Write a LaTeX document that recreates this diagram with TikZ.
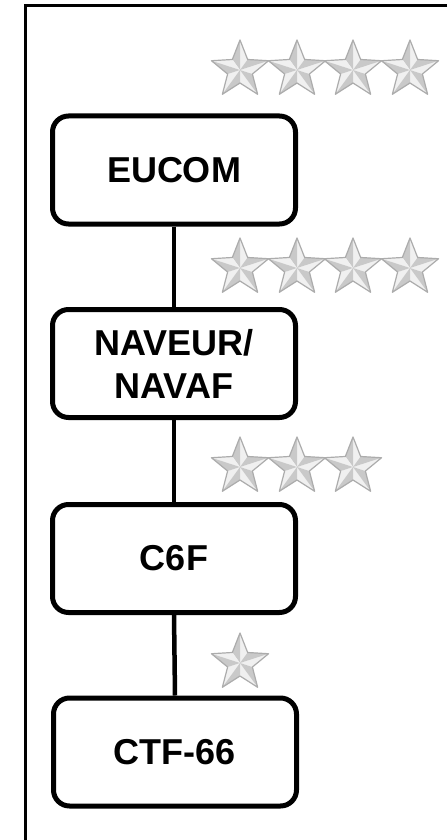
\documentclass[tikz,border=0pt]{standalone}
\usepackage{fontspec}
\setmainfont{Liberation Sans}
\newcommand{\silverstar}[1]{%
  \begin{scope}[shift={#1}]
    \foreach \i in {0,...,4}{
      \pgfmathsetmacro\a{-90+72*\i}
      \pgfmathsetmacro\b{\a+36}
      \pgfmathsetmacro\c{\a-36}
      \fill[starlight] (0,0) -- (\a:30) -- (\b:13) -- cycle;
      \fill[stardark] (0,0) -- (\a:30) -- (\c:13) -- cycle;
    }
    \draw[staredge] (-90:30) -- (-54:13) -- (-18:30) -- (18:13) -- (54:30) -- (90:13) -- (126:30) -- (162:13) -- (198:30) -- (234:13) -- cycle;
  \end{scope}}
\tikzset{
  starlight/.style={fill=gray!12},
  stardark/.style={fill=gray!42},
  staredge/.style={draw=gray!65, line width=1.2pt, line join=round},
  orgbox/.style={draw=black, line width=5pt, rounded corners=16pt, fill=white,
    minimum width=243pt, minimum height=108pt, align=center,
    font=\fontsize{36}{43}\selectfont\bfseries, inner sep=0pt},
  link/.style={draw=black, line width=4.5pt},
  frame/.style={draw=black, line width=3pt}
}
\begin{document}
\begin{tikzpicture}[x=1pt, y=-1pt]
  \useasboundingbox (0,0) rectangle (447,840);
  \fill[white] (0,0) rectangle (447,840);
  \draw[frame] (447,5.5) -- (25.5,5.5) -- (25.5,840);

  \node[orgbox] (eucom)  at (174,170) {EUCOM};
  \node[orgbox] (naveur) at (174,363.5) {NAVEUR/\\NAVAF};
  \node[orgbox] (c6f)    at (174,558.5) {C6F};
  \node[orgbox] (ctf)    at (175,752) {CTF-66};

  \draw[link] (eucom.south) -- (naveur.north);
  \draw[link] (naveur.south) -- (c6f.north);
  \draw[link] (c6f.south) -- (ctf.north);

  \foreach \x in {240,297,353,410}{\silverstar{(\x,70)}}
  \foreach \x in {240,297,353,410}{\silverstar{(\x,268)}}
  \foreach \x in {240,297,353}{\silverstar{(\x,467)}}
  \silverstar{(240,663)}
\end{tikzpicture}
\end{document}
